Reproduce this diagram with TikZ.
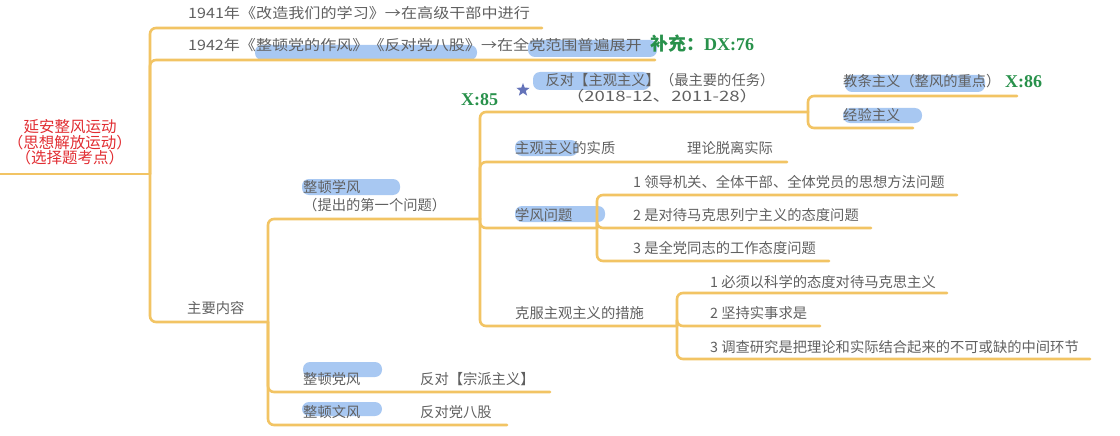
\documentclass[tikz,border=0pt]{standalone}
\usepackage{fontspec}
\setmainfont{Noto Sans CJK SC}
\newfontfamily\gserif{Liberation Serif}
\usetikzlibrary{shapes.geometric}
\definecolor{brc}{RGB}{242,196,100}
\definecolor{txc}{RGB}{96,96,96}
\definecolor{rdc}{RGB}{225,45,50}
\definecolor{grc}{RGB}{40,145,75}
\definecolor{hlc}{RGB}{168,200,242}
\definecolor{stc}{RGB}{100,115,185}
\tikzset{
  conn/.style={draw=brc, line width=2.6pt, rounded corners=6pt, line cap=round},
  lbl/.style={anchor=base west, inner sep=0pt, text=txc, font=\fontsize{14.3}{17}\selectfont},
  rootlbl/.style={anchor=base, inner sep=0pt, text=rdc, font=\fontsize{15.5}{17}\selectfont},
  hlbox/.style={fill=hlc, draw=none, rounded corners=7pt},
  grlbl/.style={anchor=west, inner sep=0pt, text=grc, font=\fontsize{18}{20}\selectfont\bfseries},
  grnum/.style={anchor=west, inner sep=0pt, text=grc, font=\fontsize{18}{20}\selectfont\gserif\bfseries}
}
\begin{document}
\begin{tikzpicture}[x=1pt,y=-1pt]
\useasboundingbox (0,0) rectangle (1120,436);
% highlights
\fill[hlbox] (255,45) rectangle (477,60);
\fill[hlbox] (528,40) rectangle (657,57);
\fill[hlbox] (533,72) rectangle (650,90);
\fill[hlbox] (515,140) rectangle (578,156);
\fill[hlbox] (515,206) rectangle (605,222);
\fill[hlbox] (302,179) rectangle (400,195);
\fill[hlbox] (303,362) rectangle (382,377);
\fill[hlbox] (302,402) rectangle (382,416);
\fill[hlbox] (845,75) rectangle (985,92);
\fill[hlbox] (843,108) rectangle (922,123);
% line coordinates
\coordinate (rS) at (0,174);
\coordinate (rE) at (150,174);
\coordinate (e41) at (542,28);
\coordinate (e42) at (655,60);
\coordinate (eMain) at (268,322);
\coordinate (eXF) at (480,219);
\coordinate (eDF) at (550,392);
\coordinate (eWF) at (507,425);
\coordinate (eFD) at (808,112);
\coordinate (eSZ) at (787,162);
\coordinate (eXW) at (597,228);
\coordinate (eKF) at (677,326);
\coordinate (eJT) at (1017,96);
\coordinate (eJY) at (913,128);
\coordinate (eX1) at (957,195);
\coordinate (eX2) at (871,228);
\coordinate (eX3) at (829,261);
\coordinate (eK1) at (947,293);
\coordinate (eK2) at (820,326);
\coordinate (eK3) at (1090,359);
% connectors
\draw[conn] (rS) -- (rE);
\draw[conn] (rE) |- (e41);
\draw[conn] (rE) |- (e42);
\draw[conn] (rE) |- (eMain);
\draw[conn] (eMain) |- (eXF);
\draw[conn] (eMain) |- (eDF);
\draw[conn] (eMain) |- (eWF);
\draw[conn] (eXF) |- (eFD);
\draw[conn] (eXF) |- (eSZ);
\draw[conn] (eXF) |- (eXW);
\draw[conn] (eXF) |- (eKF);
\draw[conn] (eFD) |- (eJT);
\draw[conn] (eFD) |- (eJY);
\draw[conn] (eXW) |- (eX1);
\draw[conn] (eXW) |- (eX2);
\draw[conn] (eXW) |- (eX3);
\draw[conn] (eKF) |- (eK1);
\draw[conn] (eKF) |- (eK2);
\draw[conn] (eKF) |- (eK3);
% root
\node[rootlbl] (root1) at (70,132) {延安整风运动};
\node[rootlbl] (root2) at (70,148) {（思想解放运动）};
\node[rootlbl] (root3) at (70,163) {（选择题考点）};
% texts
\node[lbl] (t41) at (188,19) {\scalebox{1.126}[1]{1941年《改造我们的学习》→在高级干部中进行}};
\node[lbl] (t42) at (188,51) {\scalebox{1.124}[1]{1942年《整顿党的作风》《反对党八股》→在全党范围普遍展开}};
\node[lbl] (tmain) at (187,313) {主要内容};
\node[lbl] (txf) at (303,192) {整顿学风};
\node[lbl] (txf2) at (303,210) {（提出的第一个问题）};
\node[lbl] (tdf) at (303,384) {整顿党风};
\node[lbl] (tdf2) at (420,384) {反对【宗派主义】};
\node[lbl] (twf) at (303,417) {整顿文风};
\node[lbl] (twf2) at (420,417) {反对党八股};
\node[lbl,anchor=base] (tfd) at (660,85) {反对【主观主义】（最主要的任务）};
\node[lbl,anchor=base] (tfd2) at (662,102) {\scalebox{1.3}[1]{（2018-12、2011-28）}};
\node[lbl] (tsz) at (515,153) {主观主义的实质};
\node[lbl] (tsz2) at (687,153) {理论脱离实际};
\node[lbl] (txw) at (515,220) {学风问题};
\node[lbl] (tkf) at (515,318) {克服主观主义的措施};
\node[lbl] (tjt) at (843,87) {教条主义（整风的重点）};
\node[lbl] (tjy) at (843,121) {经验主义};
\node[lbl] (tx1) at (633,187) {1 领导机关、全体干部、全体党员的思想方法问题};
\node[lbl] (tx2) at (633,220) {2 是对待马克思列宁主义的态度问题};
\node[lbl] (tx3) at (633,253) {3 是全党同志的工作态度问题};
\node[lbl] (tk1) at (710,287) {1 必须以科学的态度对待马克思主义};
\node[lbl] (tk2) at (710,318) {2 坚持实事求是};
\node[lbl] (tk3) at (710,352) {3 调查研究是把理论和实际结合起来的不可或缺的中间环节};
% green notes
\node[grlbl] (gDX) at (650,44) {补充：{\gserif\bfseries DX:76}};
\node[grnum] (g85) at (461,100) {X:85};
\node[grnum] (g86) at (1005,82) {X:86};
% star
\node[star, star points=5, star point ratio=2.4, fill=stc, inner sep=0pt, minimum size=14pt] (star) at (523,90) {};
\end{tikzpicture}
\end{document}
